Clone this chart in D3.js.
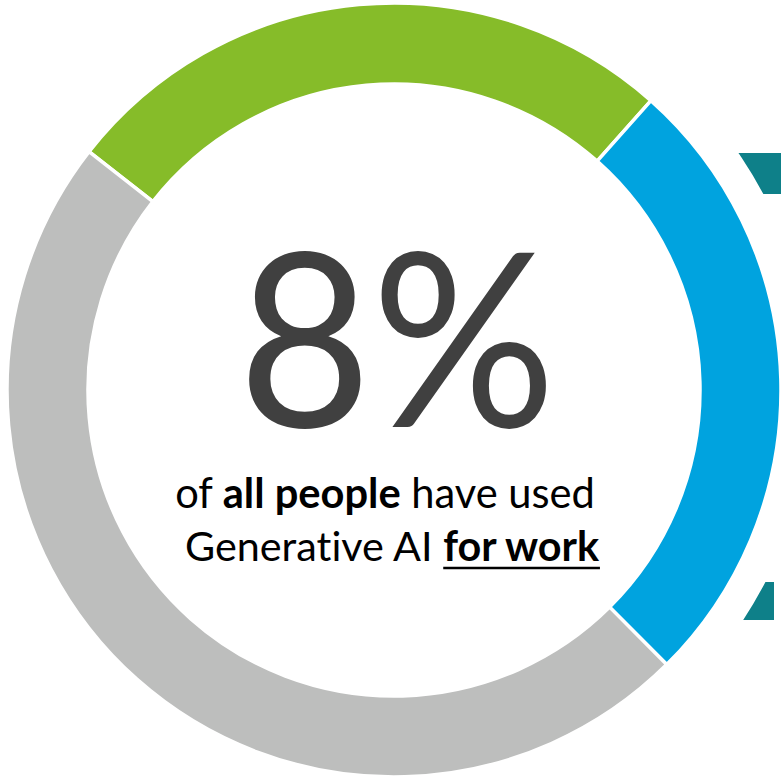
<!DOCTYPE html>
<html>
<head>
<meta charset="utf-8">
<script src="https://cdn.jsdelivr.net/npm/d3@7/dist/d3.min.js"></script>
<style>
  html, body { margin: 0; padding: 0; background: #ffffff; }
  svg { display: block; }
  text { font-variant-ligatures: none; font-feature-settings: "liga" 0, "clig" 0; }
</style>
</head>
<body>
<svg id="chart" width="781" height="778"></svg>
<script>
// ---- data ----
const categories = ["Used for work", "Used, not for work", "Not used"];
const values = [26, 26, 48];
const colors = ["#86BC29", "#00A3DF", "#BDBEBD"];
const headline = "8%";
const lineOne = [["of ", false], ["all people", true], [" have used", false]];
const lineTwo = [["Generative AI ", false], ["for work", true]];

const W = 781, H = 778;
const cx = 394, cy = 390;
const outerR = 387, innerR = 306;

const svg = d3.select("#chart");

// teal decorative ring behind (only two clipped pieces visible)
const defs = svg.append("defs");
const clip = defs.append("clipPath").attr("id", "tealClip");
clip.append("rect").attr("x", 0).attr("y", 153).attr("width", W).attr("height", 41);
clip.append("rect").attr("x", 0).attr("y", 582).attr("width", 774).attr("height", 38);

svg.append("g").attr("clip-path", "url(#tealClip)")
  .append("path")
  .attr("transform", `translate(${cx},${cy})`)
  .attr("d", d3.arc()({innerRadius: 418, outerRadius: 700, startAngle: 0, endAngle: Math.PI}))
  .attr("fill", "#0E8089");

// donut
const startDeg = -52;
const pie = d3.pie().sort(null).value(d => d)
  .startAngle(startDeg * Math.PI / 180)
  .endAngle((startDeg + 360) * Math.PI / 180);
const arc = d3.arc().innerRadius(innerR).outerRadius(outerR);

const g = svg.append("g").attr("transform", `translate(${cx},${cy})`);
g.selectAll("path.slice")
  .data(pie(values))
  .join("path")
  .attr("class", "slice")
  .attr("d", arc)
  .attr("fill", (d, i) => colors[i])
  .attr("stroke", "#ffffff")
  .attr("stroke-width", 3.5)
  .attr("stroke-linejoin", "miter");

// texts
const fontFam = "Lato, 'Open Sans', sans-serif";

function fitText(sel, targetWidth) {
  const fs = parseFloat(sel.attr("font-size"));
  const w = sel.node().getBBox().width;
  sel.attr("font-size", fs * targetWidth / w);
}

// big headline: height from font size, width by horizontal scale
const bigX = 397, bigY = 427;
const bigG = svg.append("g");
const big = bigG.append("text")
  .attr("x", 0).attr("y", 0)
  .attr("text-anchor", "middle")
  .attr("font-family", fontFam)
  .attr("font-size", 243)
  .attr("fill", "#404040")
  .text(headline);
const bw = big.node().getBBox().width;
const sx = 318 / bw;
bigG.attr("transform", `translate(${bigX},${bigY}) scale(${sx},1)`);

function addLine(parts, x, y, width) {
  const t = svg.append("text")
    .attr("x", x).attr("y", y)
    .attr("text-anchor", "middle")
    .attr("font-family", fontFam)
    .attr("font-size", 36)
    .attr("fill", "#000000")
    .attr("xml:space", "preserve")
    .style("white-space", "pre");
  parts.forEach(([s, b]) => {
    t.append("tspan").attr("font-weight", b ? 700 : 400).text(s);
  });
  fitText(t, width);
  return t;
}
addLine(lineOne, 385, 508, 420);
const l2 = addLine(lineTwo, 392, 561, 415);

// underline under bold part of line 2
const boldSpan = l2.selectAll("tspan").filter((d, i) => i === 1).node();
const bb = boldSpan.getBBox();
svg.append("line")
  .attr("x1", bb.x).attr("x2", bb.x + bb.width)
  .attr("y1", 568).attr("y2", 568)
  .attr("stroke", "#000000")
  .attr("stroke-width", 2.5);
</script>
</body>
</html>
